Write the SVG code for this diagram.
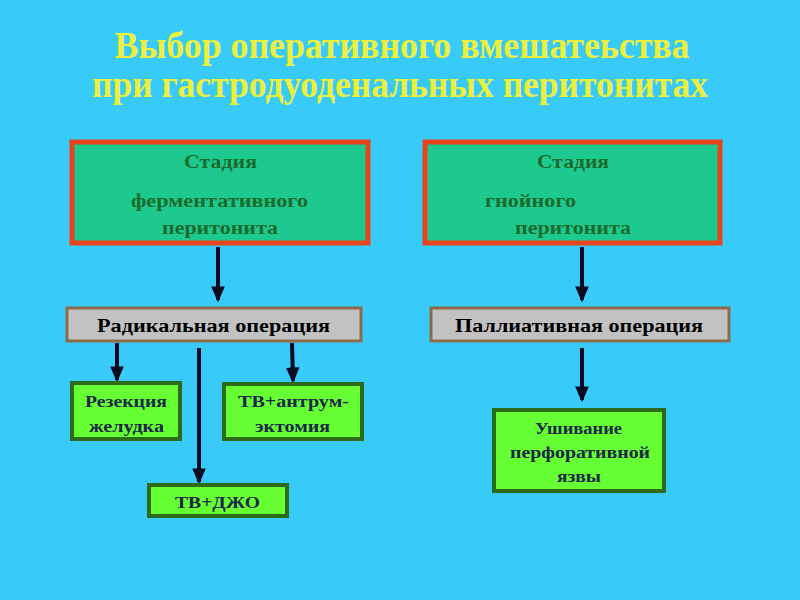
<svg xmlns="http://www.w3.org/2000/svg" width="800" height="600" viewBox="0 0 800 600">
<defs>
<style>
.t{font-family:"Liberation Serif","Times New Roman",serif;font-weight:bold}
.title{fill:#ECF03C;font-size:37px}
.stage{fill:#1C6B2C;font-size:18px}
.stageBox{fill:#1DC98E;stroke:#E8451E;stroke-width:5}
.opBox{fill:#C2C2C2;stroke:#8E6A48;stroke-width:3}
.op{fill:#000;font-size:19px}
.resBox{fill:#66FF33;stroke:#2D6A1A;stroke-width:4}
.res{fill:#1A2748;font-size:17px}
.arr{stroke:#0A0A22;stroke-width:4;fill:none;marker-end:url(#ah)}
</style>
<marker id="ah" markerWidth="4" markerHeight="4" refX="3.4" refY="2" orient="auto" markerUnits="strokeWidth" viewBox="0 0 4 4">
<path d="M0,0.3 L4,2 L0,3.7 Z" fill="#0A0A22"/>
</marker>
</defs>
<rect x="0" y="0" width="800" height="600" fill="#38CBF9"/>
<g id="title">
<text class="t title" x="402" y="58" text-anchor="middle" textLength="575" lengthAdjust="spacingAndGlyphs">Выбор оперативного вмешатеьства</text>
<text class="t title" x="400" y="97" text-anchor="middle" textLength="616" lengthAdjust="spacingAndGlyphs">при гастродуоденальных перитонитах</text>
</g>
<g id="connectors">
<line class="arr" x1="218" y1="247" x2="218" y2="300"/>
<line class="arr" x1="582" y1="247" x2="582" y2="300"/>
<line class="arr" x1="117" y1="343" x2="117" y2="380"/>
<line class="arr" x1="199" y1="348" x2="199" y2="482"/>
<line class="arr" x1="292" y1="343" x2="293" y2="381"/>
<line class="arr" x1="582" y1="348" x2="582" y2="400"/>
</g>
<g id="stage1">
<rect class="stageBox" x="72" y="142" width="296" height="101"/>
<text class="t stage" x="184" y="168" textLength="73" lengthAdjust="spacingAndGlyphs">Стадия</text>
<text class="t stage" x="131" y="207" textLength="177" lengthAdjust="spacingAndGlyphs">ферментативного</text>
<text class="t stage" x="162" y="234" textLength="116" lengthAdjust="spacingAndGlyphs">перитонита</text>
</g>
<g id="stage2">
<rect class="stageBox" x="425" y="142" width="295" height="101"/>
<text class="t stage" x="537" y="168" textLength="72" lengthAdjust="spacingAndGlyphs">Стадия</text>
<text class="t stage" x="485" y="207" textLength="91" lengthAdjust="spacingAndGlyphs">гнойного</text>
<text class="t stage" x="515" y="234" textLength="116" lengthAdjust="spacingAndGlyphs">перитонита</text>
</g>
<g id="radical">
<rect class="opBox" x="67" y="308" width="294" height="33"/>
<text class="t op" x="97" y="332" textLength="233" lengthAdjust="spacingAndGlyphs">Радикальная операция</text>
</g>
<g id="palliative">
<rect class="opBox" x="431" y="308" width="298" height="33"/>
<text class="t op" x="455" y="332" textLength="248" lengthAdjust="spacingAndGlyphs">Паллиативная операция</text>
</g>
<g id="resection">
<rect class="resBox" x="72" y="383" width="108" height="56"/>
<text class="t res" x="85" y="407" textLength="82" lengthAdjust="spacingAndGlyphs">Резекция</text>
<text class="t res" x="89" y="432" textLength="75" lengthAdjust="spacingAndGlyphs">желудка</text>
</g>
<g id="antrum">
<rect class="resBox" x="224" y="384" width="138" height="55"/>
<text class="t res" x="238" y="407" textLength="111" lengthAdjust="spacingAndGlyphs">ТВ+антрум-</text>
<text class="t res" x="255" y="432" textLength="75" lengthAdjust="spacingAndGlyphs">эктомия</text>
</g>
<g id="djo">
<rect class="resBox" x="149" y="485" width="138" height="31"/>
<text class="t res" x="175" y="508" textLength="85" lengthAdjust="spacingAndGlyphs">ТВ+ДЖО</text>
</g>
<g id="suture">
<rect class="resBox" x="494" y="410" width="170" height="81"/>
<text class="t res" x="535" y="434" textLength="87" lengthAdjust="spacingAndGlyphs">Ушивание</text>
<text class="t res" x="510" y="458" textLength="140" lengthAdjust="spacingAndGlyphs">перфоративной</text>
<text class="t res" x="557" y="482" textLength="44" lengthAdjust="spacingAndGlyphs">язвы</text>
</g>
</svg>
